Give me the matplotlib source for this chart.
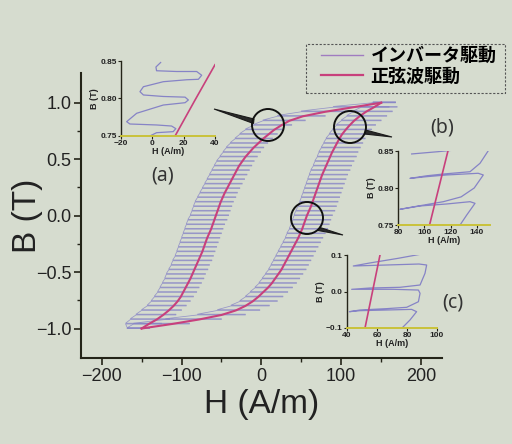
import matplotlib.pyplot as plt
from matplotlib.lines import Line2D
from matplotlib.patches import Ellipse, Polygon, Rectangle

plt.rcParams['font.family'] = ['Liberation Sans', 'Noto Sans CJK JP']

# ---- main loop data (B levels, H of each branch) ----
b_levels = [-1.00, -0.96, -0.92, -0.88, -0.84, -0.80, -0.76, -0.72, -0.68, -0.64,
            -0.60, -0.56, -0.52, -0.48, -0.44, -0.40, -0.36, -0.32, -0.28, -0.24,
            -0.20, -0.16, -0.12, -0.08, -0.04, 0.00, 0.04, 0.08, 0.12, 0.16,
            0.20, 0.24, 0.28, 0.32, 0.36, 0.40, 0.44, 0.48, 0.52, 0.56,
            0.60, 0.64, 0.68, 0.72, 0.76, 0.80, 0.84, 0.88, 0.92, 0.96, 1.00]

# sine drive, ascending (lower) branch
sine_up_H = [-150, -112, -78, -50, -32, -20, -11, -4, 2, 8,
             13, 17, 21, 25, 28, 31, 34, 37, 40, 43,
             46, 48.5, 51, 53, 55, 57, 59.5, 62, 64, 66,
             68, 70, 72, 74, 76, 78.5, 81, 83.5, 86, 88.5,
             91.5, 94.5, 97.5, 101, 105.5, 110.5, 116, 123, 131, 141, 150]
# sine drive, descending (upper) branch
sine_down_H = [-150, -141, -131, -123, -116, -110, -105, -101, -98, -95,
               -92, -89, -86.5, -84, -81.5, -79, -76.5, -74, -72, -70,
               -68, -65.5, -63, -61, -59, -57, -55, -53, -51, -48.5,
               -46, -43, -40, -37, -34, -31, -28, -24, -20, -15,
               -10, -4, 2, 9, 16, 25, 35, 52, 80, 115, 150]

# inverter drive: minor loop extent at each B level
inv_up_L = [-168, -160, -120, -80, -55, -38, -27, -20, -14, -8,
            -3, 1, 5, 9, 12, 15, 18, 21, 24, 27,
            30, 32, 35, 37, 39, 41, 43, 46, 48, 50,
            52, 54, 56, 58, 60, 62, 65, 67, 70, 72,
            75, 78, 81, 85, 89, 94, 100, 107, 115, 125, 140]
inv_up_R = [-140, -90, -50, -20, -2, 10, 20, 27, 33, 39,
            44, 48, 52, 56, 59, 62, 65, 68, 71, 74,
            77, 80, 83, 85, 87, 89, 92, 94, 96, 98,
            100, 102, 104, 106, 108, 111, 113, 116, 119, 121,
            124, 127, 130, 134, 138, 143, 150, 157, 164, 170, 168]
inv_down_L = [-168, -170, -164, -157, -150, -143, -138, -134, -130, -127,
              -124, -121, -119, -116, -113, -111, -108, -106, -104, -102,
              -100, -98, -96, -94, -92, -89, -87, -85, -83, -80,
              -77, -74, -71, -68, -65, -62, -59, -56, -52, -48,
              -44, -39, -33, -27, -20, -10, 2, 20, 50, 90, 140]
inv_down_R = [-140, -125, -115, -107, -100, -94, -89, -85, -81, -78,
              -75, -72, -70, -67, -65, -62, -60, -58, -56, -54,
              -52, -50, -48, -46, -43, -41, -39, -37, -35, -32,
              -30, -27, -24, -21, -18, -15, -12, -9, -5, -1,
              3, 8, 14, 20, 27, 38, 55, 80, 120, 160, 168]

# ---- inset data ----
a_sine_H = [14.5, 27, 40]
a_sine_B = [0.75, 0.797, 0.845]
a_inv_H = [5.3, 2.3, 2.7, 15.5, 28.3, 31.5, 29.4, 22, 7, -5.7, -7.9, -5.7, 7, 20.9, 23,
           20.9, 7, -10, -16.4, -14.3, 2.7, 12.3, 15, 13.3, 2.7, -1.6]
a_inv_B = [0.848, 0.842, 0.837, 0.836, 0.836, 0.831, 0.8256, 0.825, 0.8224, 0.8157,
           0.8091, 0.8047, 0.8027, 0.8018, 0.798, 0.7944, 0.7913, 0.7803, 0.7691, 0.766,
           0.7647, 0.7633, 0.7598, 0.7558, 0.7544, 0.75]

b_sine_H = [104, 111, 118]
b_sine_B = [0.75, 0.80, 0.85]
b_inv_H = [127.2, 132.3, 138.6, 134.8, 117, 96.7, 81.5, 91.6, 114.5, 128, 138, 144.9,
           141, 117, 101.8, 89.1, 101.8, 114.5, 134.8, 142.4, 148.7]
b_inv_B = [0.75, 0.7635, 0.7793, 0.7815, 0.7784, 0.7757, 0.7712, 0.7745, 0.7815, 0.788,
           0.800, 0.8176, 0.8199, 0.8176, 0.8153, 0.813, 0.8165, 0.8189, 0.822, 0.8334, 0.8504]
b_top_H = [90.4, 110, 127.2]
b_top_B = [0.846, 0.849, 0.852]

c_sine_H = [52, 57, 62]
c_sine_B = [-0.10, 0.0, 0.10]
c_inv_H = [76.5, 82, 86.4, 83.1, 66.4, 48.7, 41.6, 48.7, 66.4, 79.8, 87.6, 88.7, 87.6,
           70.9, 55.3, 43.1, 55.3, 75.3, 88.7, 92, 93.1, 88, 66.4, 44.2, 55, 74.2, 89.8]
c_inv_B = [-0.1008, -0.078, -0.0553, -0.049, -0.0507, -0.0525, -0.0553, -0.0507, -0.047,
           -0.0433, -0.028, -0.005, 0.004, 0.006, 0.006, 0.006, 0.0096, 0.0115, 0.0178,
           0.0498, 0.0726, 0.0753, 0.0726, 0.0699, 0.078, 0.091, 0.1027]

bg = '#d6dccf'
sine_col = '#c8407c'
inv_col = '#8683c6'
ink = '#242418'

W, H = 512, 444


def fx(x):
    return x / W


def fy(y):
    return 1 - y / H


def minor_loop_path(levels, left, right, gap=0.007):
    xs, ys = [], []
    for b, l, r in zip(levels, left, right):
        xs += [l, r, r, l]
        ys += [b, b, b + gap, b + gap]
    return xs, ys


fig = plt.figure(figsize=(5.12, 4.44), dpi=100)
fig.patch.set_facecolor(bg)

ax = fig.add_axes([0.158, 0.194, 0.705, 0.642])
ax.set_facecolor('none')

xs, ys = minor_loop_path(b_levels, inv_up_L, inv_up_R)
ax.plot(xs, ys, color=inv_col, lw=0.55, alpha=0.8)
xs, ys = minor_loop_path(b_levels, inv_down_L, inv_down_R)
ax.plot(xs, ys, color=inv_col, lw=0.55, alpha=0.8)
ax.plot(sine_up_H, b_levels, color=sine_col, lw=1.5)
ax.plot(sine_down_H, b_levels, color=sine_col, lw=1.5)

ax.set_xlim(-226, 226)
ax.set_ylim(-1.26, 1.265)
ax.set_xticks([-200, -100, 0, 100, 200])
ax.set_xticks([-150, -50, 50, 150], minor=True)
ax.set_yticks([-1.0, -0.5, 0.0, 0.5, 1.0])
ax.set_yticks([-0.75, -0.25, 0.25, 0.75], minor=True)
ax.set_yticklabels(['\u22121.0', '\u22120.5', '0.0', '0.5', '1.0'])
ax.set_xticklabels(['\u2212200', '\u2212100', '0', '100', '200'])
ax.tick_params(which='major', direction='out', length=5, width=1.2, labelsize=13,
               pad=2, color=ink, labelcolor='#222222')
ax.tick_params(which='minor', direction='out', length=3, width=1.0, color=ink)
for s in ['top', 'right']:
    ax.spines[s].set_visible(False)
for s in ['left', 'bottom']:
    ax.spines[s].set_linewidth(1.5)
    ax.spines[s].set_color(ink)
ax.set_xlabel('H (A/m)', fontsize=24, labelpad=3, color='#222222')
ax.set_ylabel('B (T)', fontsize=24, labelpad=-5, color='#222222')

# legend: entries without frame, dashed box drawn on its own
ax.legend(handles=[Line2D([], [], color='#a07cc0', lw=1.0),
                   Line2D([], [], color=sine_col, lw=1.6)],
          labels=['インバータ駆動', '正弦波駆動'],
          loc='upper left', bbox_to_anchor=(fx(321), fy(46)),
          bbox_transform=fig.transFigure,
          prop={'family': 'Noto Sans CJK JP', 'weight': 'bold', 'size': 13},
          handlelength=2.3, handletextpad=0.45, labelspacing=0.1,
          borderpad=0, borderaxespad=0, frameon=False)
fig.add_artist(Rectangle((fx(306), fy(93)), 199 / W, 49 / H, transform=fig.transFigure,
                         facecolor='none', edgecolor='#555555', lw=0.8,
                         linestyle=(0, (2, 1.5))))


def inset(rect, xlim, ylim, xt, yt, ytl):
    ia = fig.add_axes(rect)
    ia.set_facecolor('none')
    ia.set_xlim(*xlim)
    ia.set_ylim(*ylim)
    ia.set_xticks(xt)
    ia.set_yticks(yt)
    ia.set_yticklabels(ytl)
    ia.set_xticklabels([str(v).replace('-', '\u2212') for v in xt])
    ia.tick_params(direction='out', length=2, width=0.8, labelsize=6, pad=1,
                   color=ink, labelcolor='#222222')
    for t in ia.get_xticklabels() + ia.get_yticklabels():
        t.set_fontweight('bold')
    ia.spines['top'].set_visible(False)
    ia.spines['right'].set_visible(False)
    ia.spines['left'].set_color(ink)
    ia.spines['left'].set_linewidth(1.0)
    ia.spines['bottom'].set_color('#c9c23a')
    ia.spines['bottom'].set_linewidth(1.4)
    ia.set_xlabel('H (A/m)', fontsize=6.5, labelpad=0, fontweight='bold', color='#222222')
    ia.set_ylabel('B (T)', fontsize=6.5, labelpad=1, fontweight='bold', color='#222222')
    return ia


ia = inset([fx(121), fy(136), fx(94), 75 / H], (-20, 40), (0.75, 0.85),
           [-20, 0, 20, 40], [0.75, 0.80, 0.85], ['0.75', '0.80', '0.85'])
ia.plot(a_inv_H, a_inv_B, color=inv_col, lw=0.9)
ia.plot(a_sine_H, a_sine_B, color=sine_col, lw=1.2)

ib = inset([fx(398), fy(225), fx(92), 74 / H], (80, 150), (0.75, 0.85),
           [80, 100, 120, 140], [0.75, 0.80, 0.85], ['0.75', '0.80', '0.85'])
ib.plot(b_inv_H, b_inv_B, color=inv_col, lw=0.9)
ib.plot(b_top_H, b_top_B, color=inv_col, lw=0.9)
ib.plot(b_sine_H, b_sine_B, color=sine_col, lw=1.2)

ic = inset([fx(347), fy(328), fx(90), 73 / H], (40, 100), (-0.1, 0.1),
           [40, 60, 80, 100], [-0.1, 0.0, 0.1], ['\u22120.1', '0.0', '0.1'])
ic.plot(c_inv_H, c_inv_B, color=inv_col, lw=0.9)
ic.plot(c_sine_H, c_sine_B, color=sine_col, lw=1.2)

# callout circles with narrow tails (figure pixel layout)
for (cx, cy), tip, b1, b2 in [((268, 125), (214, 109), (254, 119), (253.5, 123.5)),
                               ((350, 127), (392, 137), (365.5, 130), (364.5, 134)),
                               ((307, 218), (343, 235), (320, 227.5), (318, 230.5))]:
    fig.add_artist(Polygon([(fx(b1[0]), fy(b1[1])), (fx(tip[0]), fy(tip[1])),
                            (fx(b2[0]), fy(b2[1]))], closed=True,
                           transform=fig.transFigure, facecolor='#2a2a2a',
                           edgecolor='#1a1a1a', lw=0.8, zorder=5))
    fig.add_artist(Ellipse((fx(cx), fy(cy)), 32 / W, 32 / H, transform=fig.transFigure,
                           facecolor='none', edgecolor='#111111', lw=1.4, zorder=6))

for s, (x, y) in [('(a)', (163, 175)), ('(b)', (442, 128)), ('(c)', (453, 302))]:
    fig.text(fx(x), fy(y), s, fontsize=14, color='#333333', ha='center', va='center',
             family='Noto Sans')

fig.savefig('out.png', dpi=100, facecolor=bg)
